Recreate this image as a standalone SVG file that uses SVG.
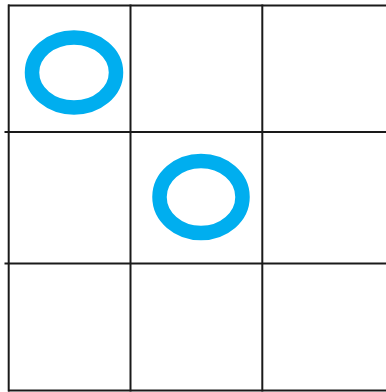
<svg xmlns="http://www.w3.org/2000/svg" width="386" height="392" viewBox="0 0 386 392">
<style>
.g{stroke:#1a1a1a;stroke-width:2;fill:none}
.o{stroke:#00aeef;stroke-width:14.5;fill:none}
</style>
<rect width="386" height="392" fill="#fff"/>
<g id="grid">
<line class="g" x1="8" y1="5.5" x2="386" y2="5.5"/>
<line class="g" x1="4.5" y1="132" x2="386" y2="132"/>
<line class="g" x1="4.5" y1="263.5" x2="386" y2="263.5"/>
<line class="g" x1="8" y1="390.5" x2="386" y2="390.5"/>
<line class="g" x1="8.7" y1="4.5" x2="8.7" y2="391.5"/>
<line class="g" x1="130.5" y1="4.5" x2="130.5" y2="391.5"/>
<line class="g" x1="262.3" y1="4.5" x2="262.3" y2="391.5"/>
</g>
<g id="o1"><ellipse class="o" cx="74" cy="72.5" rx="42" ry="35"/></g>
<g id="o2"><ellipse class="o" cx="201" cy="197" rx="41.5" ry="36"/></g>
</svg>
